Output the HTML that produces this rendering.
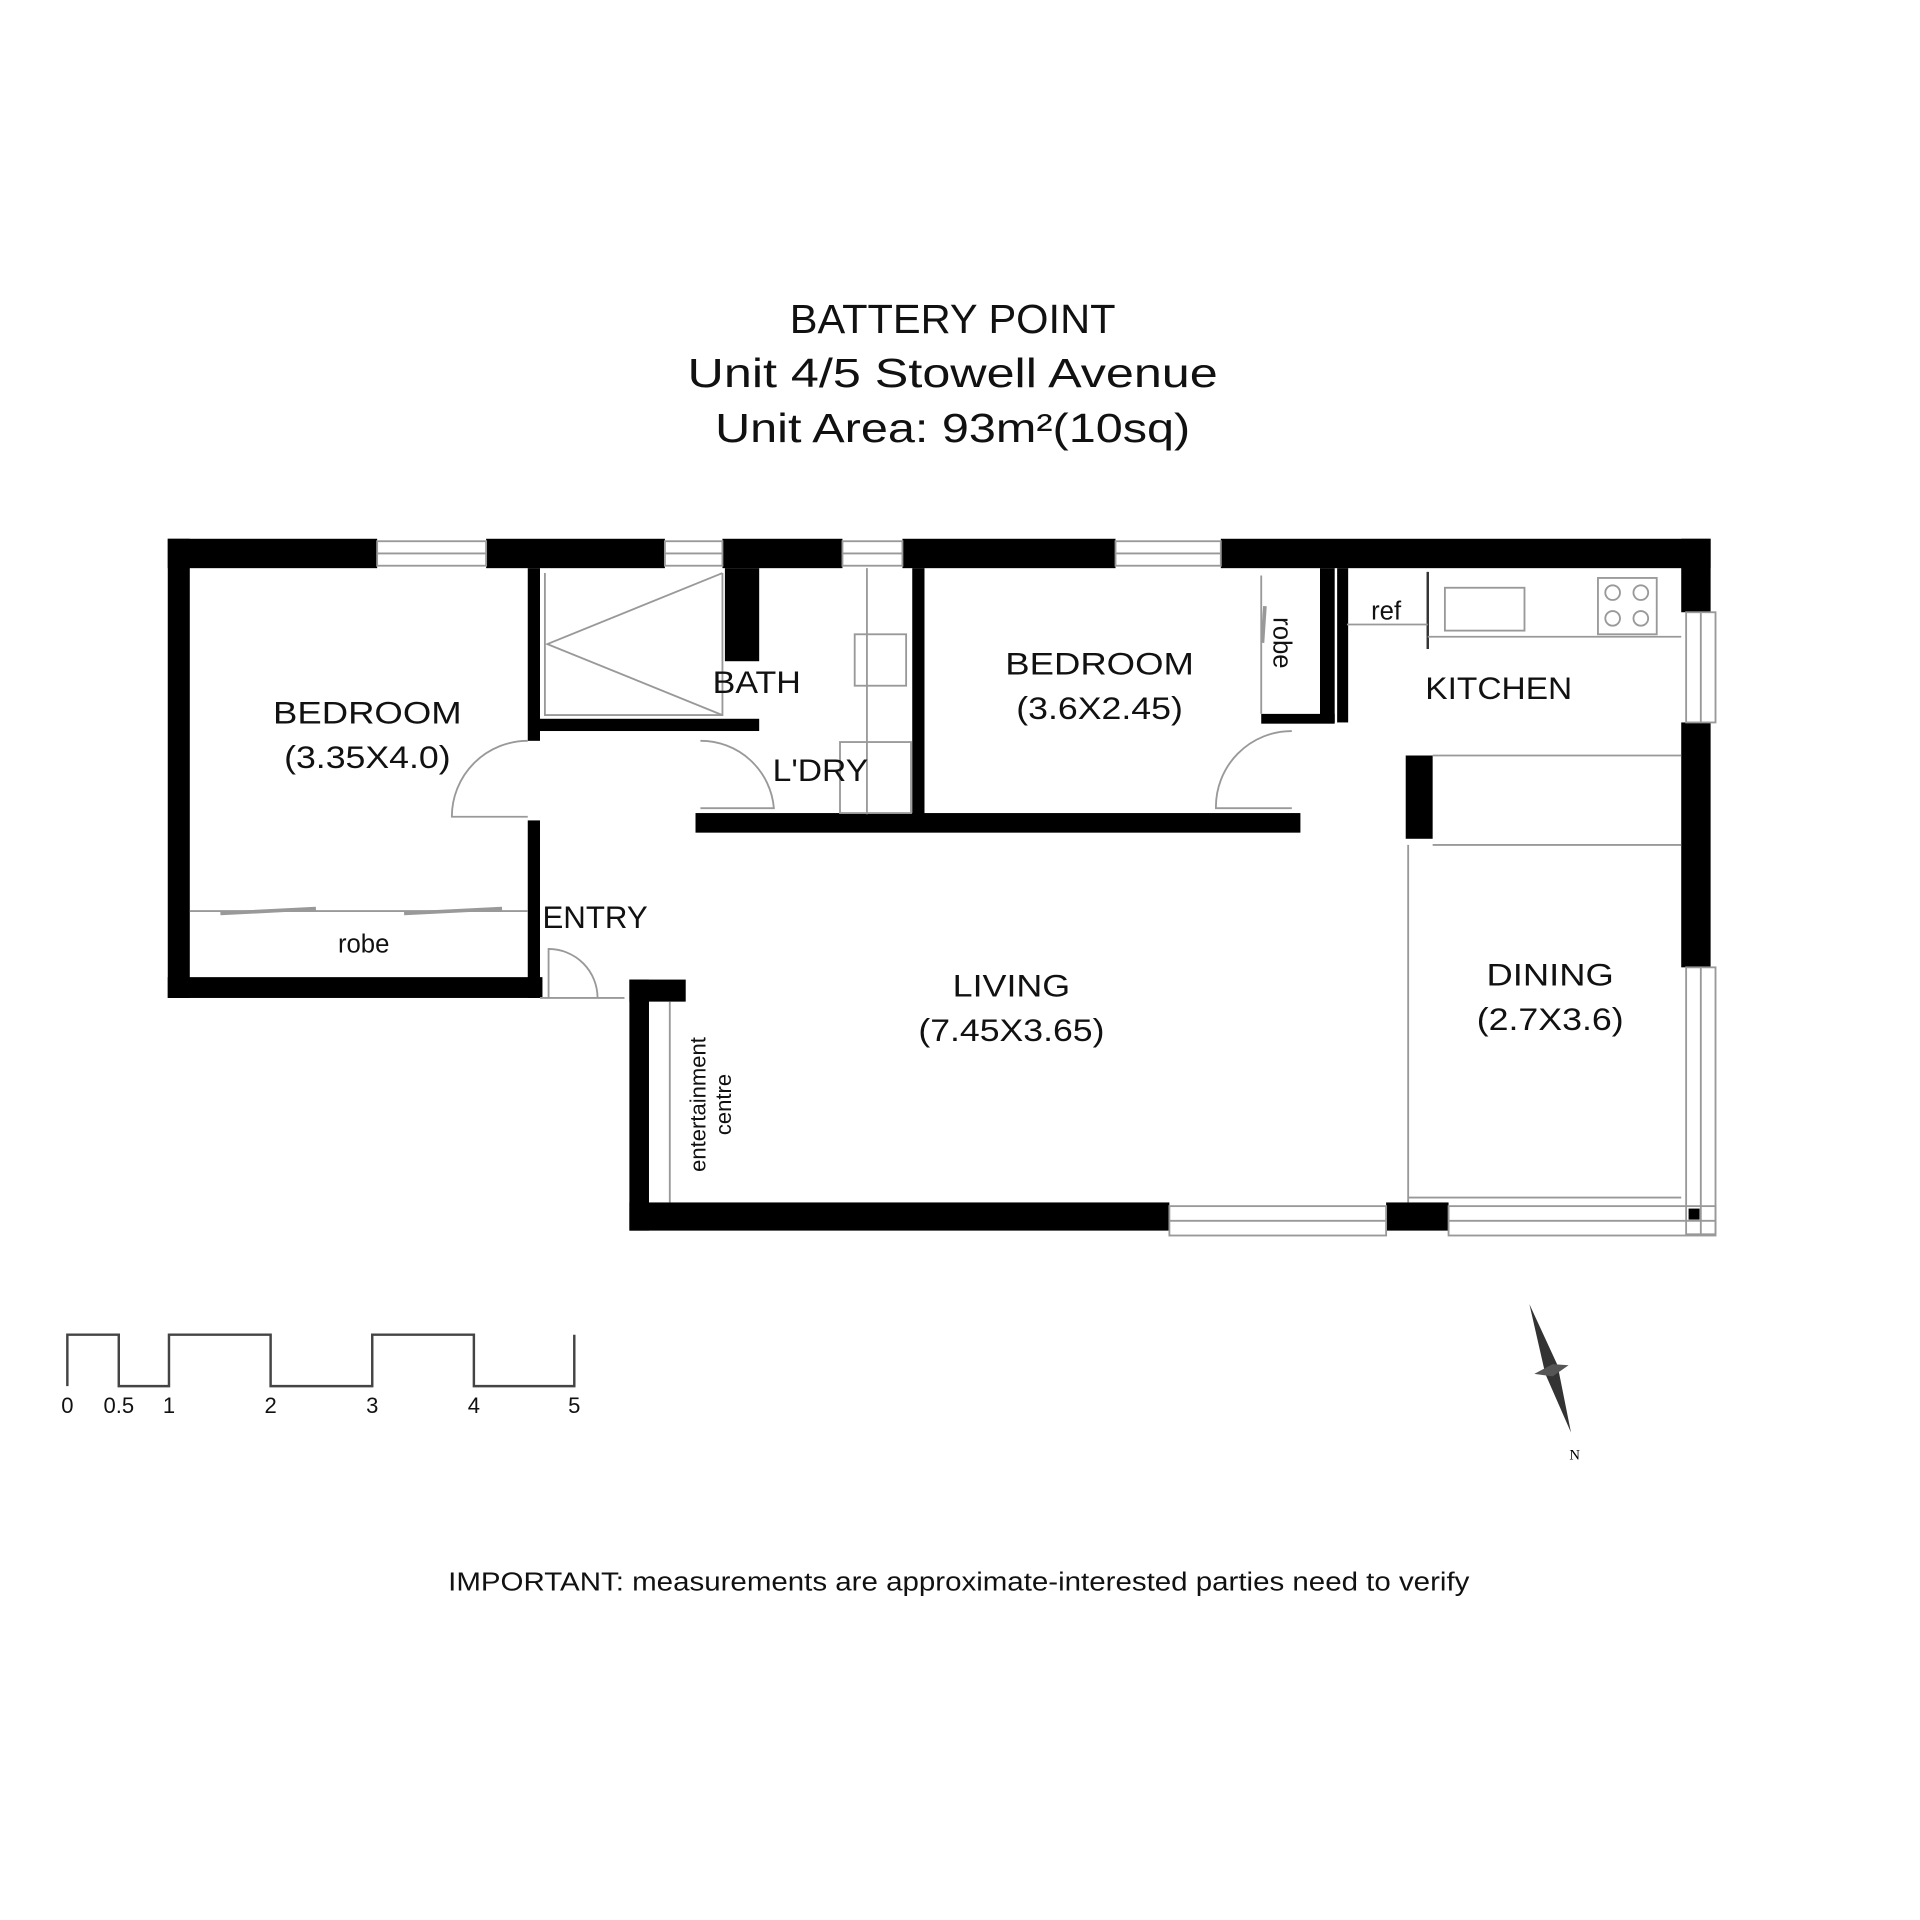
<!DOCTYPE html>
<html><head><meta charset="utf-8"><style>html,body{margin:0;padding:0;background:#fff}svg{display:block}</style></head>
<body>
<svg width="1920" height="1920" viewBox="0 0 1568 1568" xmlns="http://www.w3.org/2000/svg" font-family="Liberation Sans, sans-serif">
<rect width="1568" height="1568" fill="#fff"/>
<g font-size="33" text-anchor="middle" fill="#111">
<text x="778" y="272" textLength="266" lengthAdjust="spacingAndGlyphs">BATTERY POINT</text>
<text x="778" y="316" textLength="433" lengthAdjust="spacingAndGlyphs">Unit 4/5 Stowell Avenue</text>
<text x="778" y="361" textLength="388" lengthAdjust="spacingAndGlyphs">Unit Area: 93m²(10sq)</text>
</g>
<g fill="#000">
<rect x="137" y="440" width="171" height="24"/>
<rect x="397" y="440" width="146" height="24"/>
<rect x="590" y="440" width="98" height="24"/>
<rect x="737" y="440" width="174" height="24"/>
<rect x="997" y="440" width="400" height="24"/>
<rect x="137" y="440" width="18" height="375"/>
<rect x="137" y="798" width="306" height="17"/>
<rect x="431" y="464" width="10" height="141"/>
<rect x="431" y="670" width="10" height="145"/>
<rect x="441" y="587" width="179" height="10"/>
<rect x="592" y="464" width="28" height="76"/>
<rect x="745" y="464" width="10" height="206"/>
<rect x="568" y="664" width="494" height="16"/>
<rect x="1078" y="464" width="12" height="126"/>
<rect x="1030" y="583" width="60" height="8"/>
<rect x="1092" y="464" width="9" height="126"/>
<rect x="1373" y="440" width="24" height="60"/>
<rect x="1373" y="590" width="24" height="200"/>
<rect x="514" y="800" width="16" height="205"/>
<rect x="514" y="800" width="46" height="18"/>
<rect x="514" y="982" width="441" height="23"/>
<rect x="1132" y="982" width="51" height="23"/>
<rect x="1148" y="617" width="22" height="68"/>
<rect x="1379" y="987" width="9" height="9"/>
</g>
<g fill="none" stroke="#999" stroke-width="1.5">
<rect x="308" y="442" width="89" height="20"/><line x1="308" y1="452" x2="397" y2="452"/>
<rect x="543" y="442" width="47" height="20"/><line x1="543" y1="452" x2="590" y2="452"/>
<rect x="688" y="442" width="49" height="20"/><line x1="688" y1="452" x2="737" y2="452"/>
<rect x="911" y="442" width="86" height="20"/><line x1="911" y1="452" x2="997" y2="452"/>
<rect x="1377" y="500" width="24" height="90"/><line x1="1389" y1="500" x2="1389" y2="590"/>
<rect x="1377" y="790" width="24" height="218"/><line x1="1389" y1="790" x2="1389" y2="1008"/>
<rect x="955" y="985" width="177" height="24"/><line x1="955" y1="997" x2="1132" y2="997"/>
<rect x="1183" y="985" width="218" height="24"/><line x1="1183" y1="997" x2="1401" y2="997"/>
<polyline points="445,468 445,584 590,584 590,468"/>
<polyline points="590,468 447,526 590,584"/>
<line x1="708" y1="464" x2="708" y2="665"/>
<rect x="698" y="518" width="42" height="42"/>
<rect x="686" y="606" width="58" height="58"/>
<path d="M431 605 A62 62 0 0 0 369 667 L431 667"/>
<path d="M572 605 A60 60 0 0 1 632 660 L572 660"/>
<path d="M1055 597 A62 62 0 0 0 993 660 L1055 660"/>
<path d="M488 815 A40 40 0 0 0 448 775 L448 815"/>
<line x1="441" y1="815" x2="510" y2="815"/>
<line x1="155" y1="744" x2="431" y2="744"/>
<line x1="180" y1="746" x2="258" y2="742" stroke-width="3"/>
<line x1="330" y1="746" x2="410" y2="742" stroke-width="3"/>
<line x1="1030" y1="470" x2="1030" y2="583"/>
<line x1="1033" y1="495" x2="1031" y2="525" stroke-width="3"/>
<line x1="1166" y1="467" x2="1166" y2="530" stroke="#333" stroke-width="2"/>
<line x1="1100" y1="510" x2="1166" y2="510"/>
<line x1="1166" y1="520" x2="1373" y2="520"/>
<rect x="1180" y="480" width="65" height="35"/>
<rect x="1305" y="472" width="48" height="46"/>
<circle cx="1317" cy="484" r="6"/><circle cx="1340" cy="484" r="6"/><circle cx="1317" cy="505" r="6"/><circle cx="1340" cy="505" r="6"/>
<line x1="1170" y1="617" x2="1373" y2="617"/>
<line x1="1170" y1="690" x2="1373" y2="690"/>
<line x1="1150" y1="690" x2="1150" y2="982"/>
<line x1="1150" y1="978" x2="1373" y2="978"/>
<line x1="547" y1="818" x2="547" y2="982"/>
</g>
<g font-size="26" text-anchor="middle" fill="#111" lengthAdjust="spacingAndGlyphs">
<text x="300" y="591" textLength="154" lengthAdjust="spacingAndGlyphs">BEDROOM</text><text x="300" y="627" textLength="136" lengthAdjust="spacingAndGlyphs">(3.35X4.0)</text>
<text x="618" y="566" textLength="72" lengthAdjust="spacingAndGlyphs">BATH</text>
<text x="670" y="638" textLength="78" lengthAdjust="spacingAndGlyphs">L'DRY</text>
<text x="898" y="551" textLength="154" lengthAdjust="spacingAndGlyphs">BEDROOM</text><text x="898" y="587" textLength="136" lengthAdjust="spacingAndGlyphs">(3.6X2.45)</text>
<text x="1224" y="571" textLength="120" lengthAdjust="spacingAndGlyphs">KITCHEN</text>
<text x="486" y="758" textLength="86" lengthAdjust="spacingAndGlyphs">ENTRY</text>
<text x="826" y="814" textLength="96" lengthAdjust="spacingAndGlyphs">LIVING</text><text x="826" y="850" textLength="152" lengthAdjust="spacingAndGlyphs">(7.45X3.65)</text>
<text x="1266" y="805" textLength="104" lengthAdjust="spacingAndGlyphs">DINING</text><text x="1266" y="841" textLength="120" lengthAdjust="spacingAndGlyphs">(2.7X3.6)</text>
</g>
<g font-size="21" text-anchor="middle" fill="#111">
<text x="297" y="778">robe</text>
<text x="1132" y="506">ref</text>
<text transform="translate(1040,525) rotate(90)">robe</text>
<text font-size="18" transform="translate(576,902) rotate(-90)">entertainment</text>
<text font-size="18" transform="translate(597,902) rotate(-90)">centre</text>
</g>
<polyline points="55,1132 55,1090 97,1090 97,1132 138,1132 138,1090 221,1090 221,1132 304,1132 304,1090 387,1090 387,1132 469,1132 469,1090" fill="none" stroke="#444" stroke-width="2"/>
<g font-size="18" text-anchor="middle" fill="#111">
<text x="55" y="1154">0</text><text x="97" y="1154">0.5</text><text x="138" y="1154">1</text><text x="221" y="1154">2</text><text x="304" y="1154">3</text><text x="387" y="1154">4</text><text x="469" y="1154">5</text>
</g>
<polygon points="1249,1065 1272,1115 1283,1170 1262,1122" fill="#333"/>
<polygon points="1253,1122 1268,1114 1281,1115 1268,1124" fill="#555"/>
<text x="1286" y="1192" font-size="12" text-anchor="middle" font-family="Liberation Serif, serif">N</text>
<text x="783" y="1299" font-size="21" text-anchor="middle" fill="#111" textLength="834" lengthAdjust="spacingAndGlyphs">IMPORTANT: measurements are approximate-interested parties need to verify</text>
</svg>
</body></html>
